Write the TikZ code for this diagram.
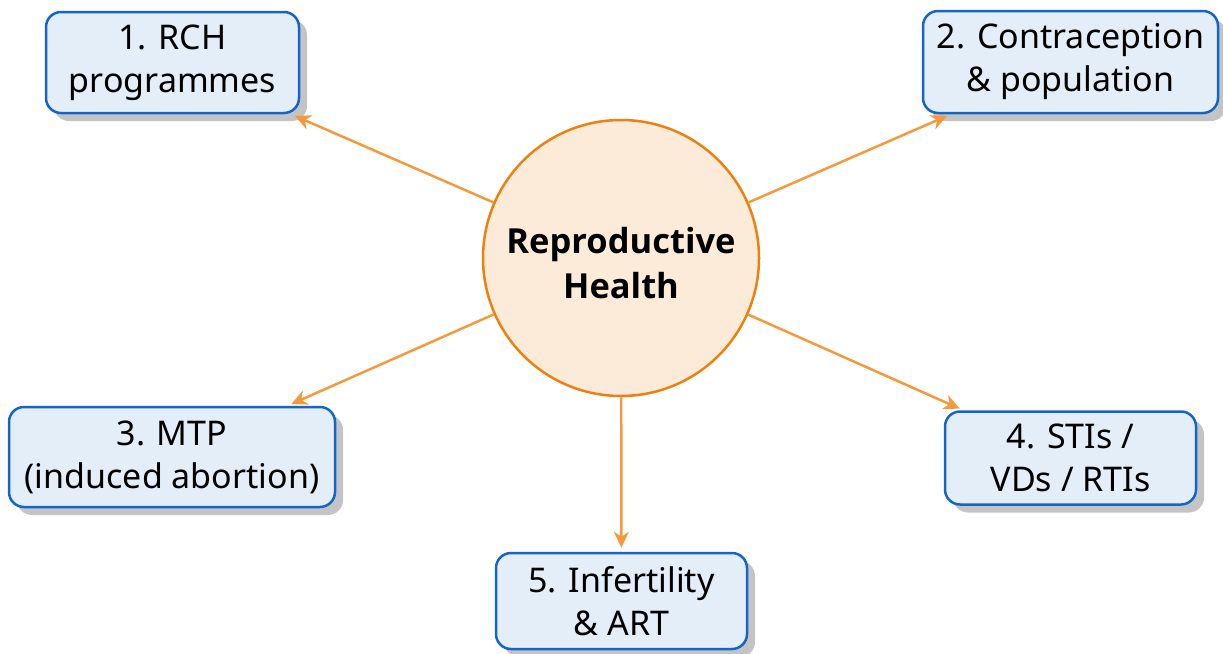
\documentclass[tikz,border=0pt]{standalone}
\usepackage{fontspec}
\setmainfont{Noto Sans}
\newfontfamily\hubfont{Open Sans}
\usetikzlibrary{arrows.meta,shadows}
\definecolor{boxfill}{HTML}{E4EEF9}
\definecolor{boxline}{HTML}{1565C8}
\definecolor{shadowgray}{HTML}{C4C4C4}
\definecolor{circfill}{HTML}{FCEBD9}
\definecolor{circline}{HTML}{EE8010}
\definecolor{arrowcol}{HTML}{F59A3C}
\tikzset{
  topic/.style={draw=boxline, fill=boxfill, line width=2.5pt, rounded corners=15pt,
    inner sep=0pt, align=center, font=\fontsize{34}{43}\selectfont,
    drop shadow={shadow xshift=8pt, shadow yshift=-8pt, fill=shadowgray, opacity=1}},
  hub/.style={circle, draw=circline, fill=circfill, line width=2.5pt, minimum size=276pt,
    inner sep=0pt},
  hubtext/.style={align=center, inner sep=0pt, font=\hubfont\bfseries\fontsize{34.5}{45}\selectfont},
  link/.style={draw=arrowcol, line width=2.5pt, shorten >=4pt,
    -{Stealth[length=16pt,width=15pt,inset=5pt]}}
}
\begin{document}
\begin{tikzpicture}[x=1pt,y=-1pt]
\useasboundingbox (0,0) rectangle (1223,653);
\node[hub] (c) at (621,258) {};
\node[hubtext] (ct) at (621,263) {Reproductive\\Health};
\node[topic, minimum width=253pt, minimum height=101pt] (b1) at (172.5,62.5) {1. RCH\\programmes};
\node[topic, minimum width=295pt, minimum height=102pt] (b2) at (1070.5,62) {2. Contraception\\\& population};
\node[topic, minimum width=326pt, minimum height=100pt] (b3) at (172,457) {3. MTP\\(induced abortion)};
\node[topic, minimum width=251pt, minimum height=93pt] (b4) at (1070.5,458) {4. STIs /\\VDs / RTIs};
\node[topic, minimum width=251pt, minimum height=96pt] (b5) at (621.5,601) {5. Infertility\\\& ART};
\draw[link] (c) -- (b1);
\draw[link] (c) -- (b2);
\draw[link] (c) -- (b3);
\draw[link] (c) -- (b4);
\draw[link] (c) -- (b5);
\end{tikzpicture}
\end{document}
